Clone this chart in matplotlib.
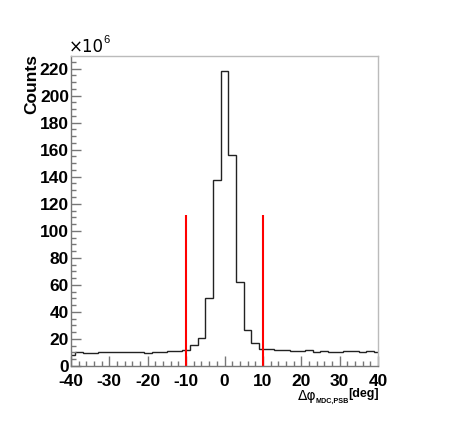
import numpy as np
import matplotlib
matplotlib.use("Agg")
import matplotlib.pyplot as plt
from matplotlib.ticker import MultipleLocator

# Histogram data (counts in units of 1e6), bins of width 2 deg centred on even values
bin_edges = np.arange(-41, 42, 2)
counts = [8.5, 10.5, 9.5, 9.5, 10.0, 10.0, 10.5, 10.0, 10.0, 10.5, 9.5, 10.5, 10.5, 11.0, 11.0,
          11.8, 15.5, 21.0, 50.5, 137.6, 218.0, 155.8, 62.4, 26.6, 16.8, 12.8,
          12.3, 11.6, 11.8, 11.2, 11.2, 11.5, 10.5, 11.2, 10.5, 10.5, 11.2, 10.8, 10.5, 11.2, 10.5]
cut_positions = [-10, 10]
cut_height = 112
x_ticks = [-40, -30, -20, -10, 0, 10, 20, 30, 40]
y_ticks = list(range(0, 221, 20))

fig = plt.figure(figsize=(4.5, 4.36), dpi=100)
ax = fig.add_axes([71/450, 1-366/436, (378-71)/450, (366-56)/436])

ax.stairs(counts, bin_edges, baseline=None, color="#222222", linewidth=1.0)
ax.vlines(cut_positions, 0, cut_height, colors="red", linewidth=1.5)

ax.set_xlim(-40, 40)
ax.set_ylim(0, 229.3)
ax.set_xticks(x_ticks)
ax.set_yticks(y_ticks)
ax.xaxis.set_minor_locator(MultipleLocator(2))
ax.yaxis.set_minor_locator(MultipleLocator(5))

tick_font = dict(family="Liberation Sans", weight="bold", size=12.5)
ax.set_xticklabels([str(t) for t in x_ticks], fontdict=tick_font)
ax.set_yticklabels([str(t) for t in y_ticks], fontdict=tick_font)

ax.tick_params(axis="both", which="major", direction="in", length=7, width=1,
               color="#777777", top=False, right=False)
ax.tick_params(axis="both", which="minor", direction="in", length=3.5, width=1,
               color="#777777", top=False, right=False)
ax.tick_params(axis="x", which="major", pad=5.5)
ax.tick_params(axis="y", which="major", pad=1.5)

for side in ["left", "bottom"]:
    ax.spines[side].set_color("#777777")
    ax.spines[side].set_linewidth(1.0)
for side in ["top", "right"]:
    ax.spines[side].set_color("#bbbbbb")
    ax.spines[side].set_linewidth(1.0)

fig.text(32/450, 1-84/436, "Counts", rotation=90, ha="center", va="center",
         family="Liberation Sans", weight="bold", size=12.5)
fig.text(69/450, 1-47/436, "\u00d710", ha="left", va="center",
         family="DejaVu Sans", size=12)
fig.text(103.5/450, 1-40/436, "6", ha="left", va="center",
         family="Liberation Sans", size=8)
fig.text(298/450, 1-396/436, "\u0394\u03c6", ha="left", va="center",
         family="DejaVu Sans", size=10)
fig.text(316/450, 1-401/436, "MDC,PSB", ha="left", va="center",
         family="Liberation Sans", weight="bold", size=5.2)
fig.text(348/450, 1-394/436, "[deg]", ha="left", va="center",
         family="Liberation Sans", weight="bold", size=9)

fig.savefig("out.png", dpi=100)
